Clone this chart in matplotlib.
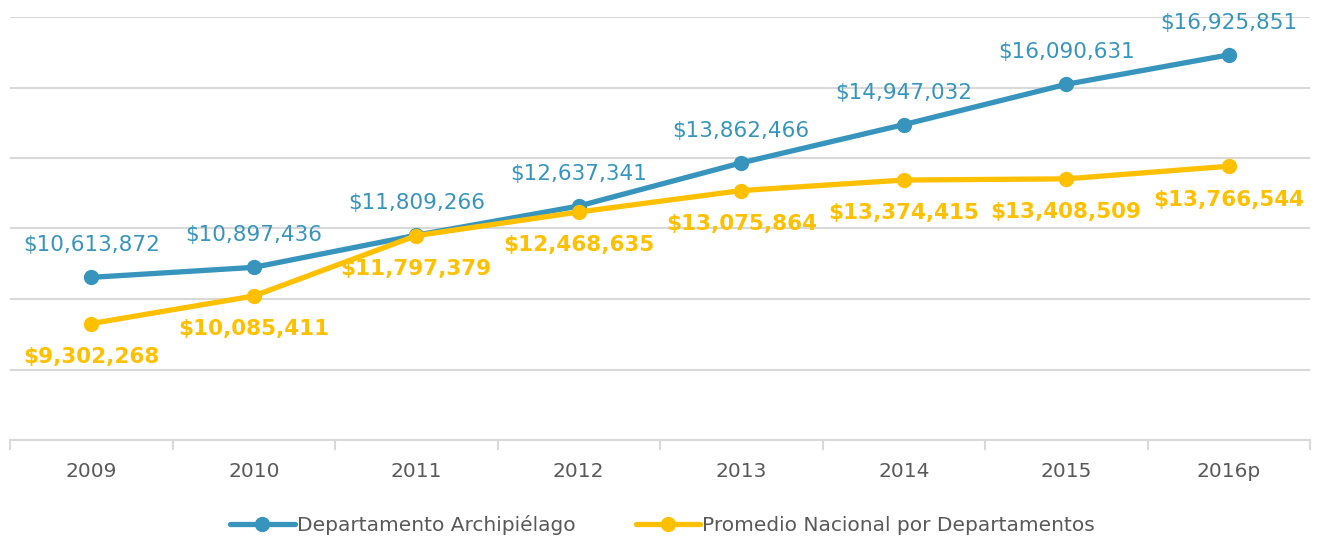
import matplotlib
matplotlib.use('Agg')
import matplotlib.pyplot as plt
from matplotlib.ticker import MultipleLocator, FixedLocator

years = ["2009", "2010", "2011", "2012", "2013", "2014", "2015", "2016p"]
archipielago = [10613872, 10897436, 11809266, 12637341, 13862466, 14947032, 16090631, 16925851]
promedio = [9302268, 10085411, 11797379, 12468635, 13075864, 13374415, 13408509, 13766544]

blue = '#3795BD'
gold = '#FFC000'
grid_c = '#D9D9D9'
text_c = '#595959'

fig = plt.figure(figsize=(13.25, 5.41), dpi=100)
ax = fig.add_axes([10 / 1325, 1 - 440 / 541, 1300 / 1325, 423 / 541])

x = list(range(len(years)))
ax.plot(x, archipielago, color=blue, linewidth=3.8, marker='o', markersize=10,
        label='Departamento Archipiélago', zorder=3, solid_capstyle='round')
ax.plot(x, promedio, color=gold, linewidth=3.8, marker='o', markersize=10,
        label='Promedio Nacional por Departamentos', zorder=3, solid_capstyle='round')

# data labels: blue above, gold below
for xi, v in zip(x, archipielago):
    ax.annotate(f"${v:,}", (xi, v), xytext=(0, 23), textcoords='offset points',
                ha='center', va='center', color=blue, fontsize=15.5)
for xi, v in zip(x, promedio):
    ax.annotate(f"${v:,}", (xi, v), xytext=(0, -24), textcoords='offset points',
                ha='center', va='center', color=gold, fontsize=15.5, fontweight='bold')

ax.set_xlim(-0.5, len(years) - 0.5)
ax.set_ylim(6e6, 18e6)
ax.yaxis.set_major_locator(MultipleLocator(2e6))
ax.set_yticklabels([])
ax.tick_params(axis='y', length=0)
ax.grid(axis='y', color=grid_c, linewidth=1.5)
ax.set_axisbelow(True)

ax.set_xticks(x)
ax.set_xticklabels(years, color=text_c, fontsize=14.5)
ax.xaxis.set_minor_locator(FixedLocator([i - 0.5 for i in range(len(years) + 1)]))
ax.tick_params(axis='x', which='major', length=0, pad=16)
ax.tick_params(axis='x', which='minor', length=7, width=1.5, color=grid_c)

for s in ['top', 'right', 'left']:
    ax.spines[s].set_visible(False)
ax.spines['bottom'].set_color(grid_c)
ax.spines['bottom'].set_linewidth(1.5)

leg = fig.legend(loc='center', bbox_to_anchor=(0.5, 1 - 525 / 541), ncol=2, frameon=False,
                 fontsize=14.5, handlelength=3.2, handletextpad=0.1, columnspacing=3.0)
for t in leg.get_texts():
    t.set_color(text_c)

fig.savefig('out.png', dpi=100, facecolor='white')
